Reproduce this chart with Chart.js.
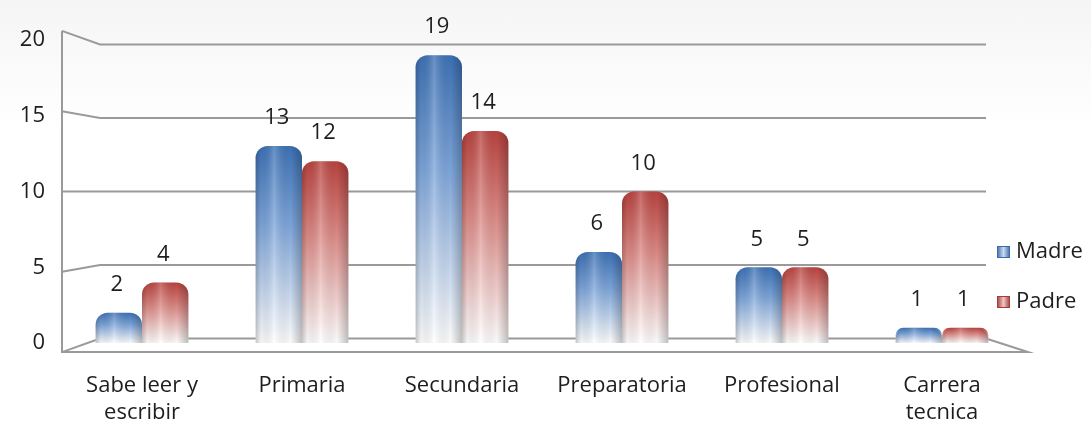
<!DOCTYPE html>
<html>
<head>
<meta charset="utf-8">
<script src="https://cdn.jsdelivr.net/npm/chart.js@4"></script>
<style>
    html, body { margin: 0; padding: 0; }
    body { width: 1091px; height: 427px; background: linear-gradient(#f5f5f5, #ffffff 30%); overflow: hidden; }
    #wrap { position: relative; width: 1091px; height: 427px; }
</style>
</head>
<body>
<div id="wrap"><canvas id="chart" width="1091" height="427"></canvas></div>
<script>
const categories = [["Sabe leer y", "escribir"], "Primaria", "Secundaria", "Preparatoria", "Profesional", ["Carrera", "tecnica"]];
const madreValues = [2, 13, 19, 6, 5, 1];
const padreValues = [4, 12, 14, 10, 5, 1];
const yTicks = [0, 5, 10, 15, 20];

const FONT = "'Open Sans', 'Noto Sans', sans-serif";
const TEXT = "#1e1e1e";
const FRAME = "#9a9a9a";

function barGradient(ctx, dark, mid) {
    const chart = ctx.chart;
    const area = chart.chartArea;
    if (!area || ctx.type !== "data") {
        return dark;
    }
    const y = chart.scales.y;
    const top = y.getPixelForValue(ctx.parsed.y);
    const base = y.getPixelForValue(0);
    const g = chart.ctx.createLinearGradient(0, top, 0, base);
    g.addColorStop(0, dark);
    g.addColorStop(0.4, mid);
    g.addColorStop(1, "#ffffff");
    return g;
}

// perspective frame: back wall gridlines, left wall diagonals and floor
const framePlugin = {
    id: "frame",
    beforeDatasetsDraw(chart) {
        const { ctx, chartArea } = chart;
        const y = chart.scales.y;
        const mid = y.getPixelForValue(10);
        const backL = chartArea.left + 38;
        const backR = chartArea.right - 36;
        const front = (v) => mid + (y.getPixelForValue(v) - mid) * 1.06;
        const back = (v) => mid + (y.getPixelForValue(v) - mid) * 0.97;
        ctx.save();
        ctx.strokeStyle = FRAME;
        ctx.lineWidth = 2;
        yTicks.forEach((v) => {
            ctx.beginPath();
            ctx.moveTo(chartArea.left, front(v));
            ctx.lineTo(backL, back(v));
            ctx.lineTo(backR, back(v));
            ctx.stroke();
        });
        ctx.beginPath();
        ctx.moveTo(chartArea.left, front(20));
        ctx.lineTo(chartArea.left, front(0));
        ctx.lineTo(chartArea.right + 6, front(0));
        ctx.lineTo(backR, back(0));
        ctx.stroke();
        ctx.restore();
    },
    afterDatasetsDraw(chart) {
        const { ctx } = chart;
        ctx.save();
        // cylinder shading across each bar
        chart.data.datasets.forEach((ds, i) => {
            chart.getDatasetMeta(i).data.forEach((bar) => {
                const w = bar.width;
                const x0 = bar.x - w / 2;
                const shade = ctx.createLinearGradient(x0, 0, x0 + w, 0);
                shade.addColorStop(0, "rgba(0,0,0,0.22)");
                shade.addColorStop(0.12, "rgba(0,0,0,0.04)");
                shade.addColorStop(0.4, "rgba(255,255,255,0.22)");
                shade.addColorStop(0.75, "rgba(0,0,0,0.02)");
                shade.addColorStop(1, "rgba(0,0,0,0.25)");
                ctx.fillStyle = shade;
                ctx.beginPath();
                ctx.roundRect(x0, bar.y, w, bar.base - bar.y, [12, 12, 0, 0]);
                ctx.fill();
            });
        });
        ctx.font = `22px ${FONT}`;
        ctx.fillStyle = TEXT;
        ctx.textAlign = "center";
        ctx.textBaseline = "middle";
        chart.data.datasets.forEach((ds, i) => {
            chart.getDatasetMeta(i).data.forEach((bar, j) => {
                ctx.fillText(String(ds.data[j]), bar.x - 2, bar.y - 28);
            });
        });
        // legend
        const legendY = [252, 302];
        chart.data.datasets.forEach((ds, i) => {
            const ly = legendY[i];
            const g = ctx.createLinearGradient(997, 0, 1010, 0);
            g.addColorStop(0, ds.legendDark);
            g.addColorStop(0.5, ds.legendLight);
            g.addColorStop(1, ds.legendDark);
            ctx.fillStyle = g;
            ctx.fillRect(997, ly - 6, 13, 12);
            ctx.strokeStyle = ds.legendDark;
            ctx.lineWidth = 1;
            ctx.strokeRect(997.5, ly - 5.5, 12, 11);
            ctx.fillStyle = TEXT;
            ctx.textAlign = "left";
            ctx.fillText(ds.label, 1016, ly);
        });
        ctx.restore();
    }
};

new Chart(document.getElementById("chart"), {
    type: "bar",
    data: {
        labels: categories,
        datasets: [
            {
                label: "Madre",
                data: madreValues,
                legendDark: "#3c6aa8",
                legendLight: "#c9dbf2",
                backgroundColor: (ctx) => barGradient(ctx, "#3d72b6", "#7ea6db"),
                borderRadius: { topLeft: 12, topRight: 12 },
                borderSkipped: "bottom",
                categoryPercentage: 0.58,
                barPercentage: 1
            },
            {
                label: "Padre",
                data: padreValues,
                legendDark: "#a23d3a",
                legendLight: "#f0c6c4",
                backgroundColor: (ctx) => barGradient(ctx, "#ba433f", "#dd8a86"),
                borderRadius: { topLeft: 12, topRight: 12 },
                borderSkipped: "bottom",
                categoryPercentage: 0.58,
                barPercentage: 1
            }
        ]
    },
    options: {
        responsive: false,
        animation: false,
        layout: { padding: { top: 40, right: 69, bottom: 4, left: 0 } },
        plugins: {
            legend: { display: false },
            tooltip: { enabled: false }
        },
        scales: {
            x: {
                afterFit(scale) { scale.height = 80; },
                grid: { display: false, drawTicks: false },
                border: { display: false },
                ticks: {
                    color: TEXT,
                    font: { family: FONT, size: 22, lineHeight: 1.2 },
                    padding: 30,
                    maxRotation: 0,
                    autoSkip: false
                }
            },
            y: {
                min: 0,
                max: 20,
                afterFit(scale) { scale.width = 62; },
                grid: { display: false, drawTicks: false },
                border: { display: false },
                ticks: {
                    stepSize: 5,
                    color: TEXT,
                    font: { family: FONT, size: 22 },
                    padding: 17
                }
            }
        }
    },
    plugins: [framePlugin]
});
</script>
</body>
</html>
